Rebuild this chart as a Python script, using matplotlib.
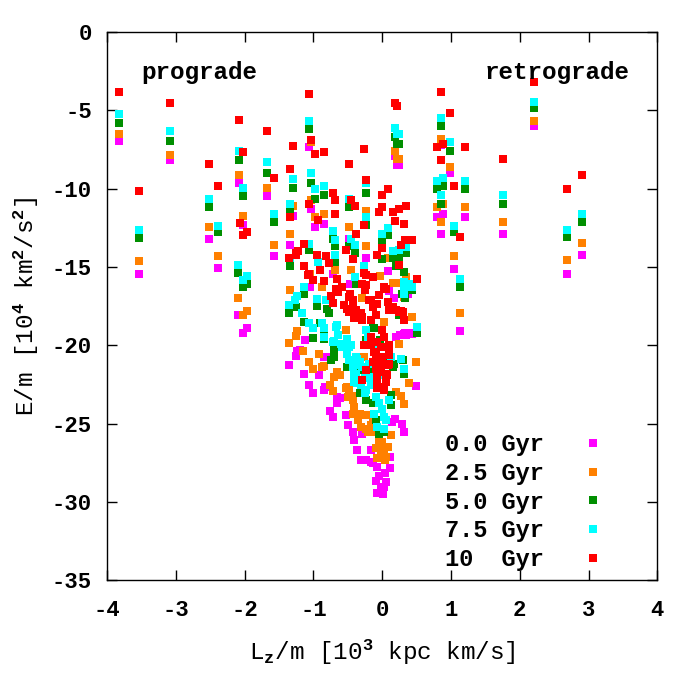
import numpy as np
import matplotlib
matplotlib.use('Agg')
import matplotlib.pyplot as plt

# ---- style: gnuplot-like bold mono look ----
plt.rcParams['font.family'] = ['Liberation Mono', 'DejaVu Sans Mono']
plt.rcParams['font.weight'] = 'bold'
plt.rcParams['axes.unicode_minus'] = False
plt.rcParams['mathtext.fontset'] = 'custom'
plt.rcParams['mathtext.rm'] = 'Liberation Mono:bold'
plt.rcParams['mathtext.it'] = 'Liberation Mono:bold'
plt.rcParams['mathtext.bf'] = 'Liberation Mono:bold'

# ---- data (Lz/m [1e3 kpc km/s], E/m [1e4 km^2/s^2]) ----
labels = ['0.0 Gyr', '2.5 Gyr', '5.0 Gyr', '7.5 Gyr', '10  Gyr']
colors = ['#ff00ff', '#ff8000', '#008f00', '#00ffff', '#ff0000']

lz_00 = [-3.82, -3.08, -3.54, -2.52, -2.39, -2.08, -2.03, -1.68, -1.58, -1.30, -1.34, -2.09, -1.96, -2.03,
         -1.24, -1.26, -1.35,
         0.25, 0.86, 0.99, 1.21, 0.79, 0.89, 0.85, 1.05, 1.13, 1.76, 2.20, 2.68, 2.91, 0.43, 0.32,
         -1.06, -1.04, -0.98, -0.84, -0.48, -0.24, -0.24, 0.19, 0.22, 0.08, -0.71,
         -0.47, 0.10, -1.05, 0.38, 0.20, 0.33, 0.49, -1.12, -1.19, -1.13, -0.92, -1.07, -0.80, -0.83, 0.26,
         -1.00, -0.85, -0.66, -0.66, -0.61, -0.76, -0.71, -0.53, -0.50, -0.43, -0.29, -0.41, -0.36, -0.16,
         -0.31, -0.24, -0.17, -0.13, -0.07, 0.11, 0.11, 0.04, -0.04, -0.09, 0.06, 0.03, -0.02, -0.07, 0.01,
         0.19, 0.29, 0.31, 0.14, 0.17, 0.34, 0.44, -0.84]
em_00 = [-6.96, -8.19, -15.45, -13.18, -15.03, -9.60, -12.34, -10.49, -14.30, -11.71, -13.56, -18.09, -18.90, -19.18,
         -20.35, -20.69, -21.22,
         -8.45, -7.22, -9.02, -11.83, -11.83, -11.58, -12.86, -15.09, -19.11, -12.86, -6.02, -15.41, -14.20, -19.30, -19.30,
         -7.36, -11.32, -12.43, -12.22, -13.18, -11.96, -14.45, -7.92, -8.45, -15.26, -15.41,
         -16.10, -16.52, -16.30, -16.69, -19.46, -19.24, -22.60, -19.67, -20.31, -21.80, -21.90, -22.54, -20.73, -22.65, -19.35,
         -23.03, -22.86, -23.29, -23.71, -23.39, -24.18, -24.56, -24.46, -25.10, -25.52, -25.63, -26.05, -26.69, -26.69,
         -27.29, -27.29, -27.44, -27.54, -27.76, -27.12, -27.80, -28.18, -28.35, -28.67, -28.71, -29.03, -29.14, -29.42, -29.46,
         -24.67, -25.03, -25.52, -24.88, -17.00, -19.35, -19.24, -20.73]

lz_25 = [-3.82, -3.08, -3.54, -2.52, -2.39, -2.08, -2.03, -1.68, -1.58, -1.30, -1.34, -2.09, -1.96, -2.03,
         -1.34, -1.24, -1.26, -1.35,
         0.25, 0.86, 0.99, 1.21, 0.79, 0.89, 0.85, 1.05, 1.13, 1.76, 2.20, 2.68, 2.91, 0.35, 0.31, 0.43,
         -1.04, -1.04, -0.98, -0.85, -0.48, -0.24, -0.24, 0.19, 0.22, 0.08, -0.69, -0.46, -1.05, -0.03,
         0.16, 0.25, 0.03, 0.24, 0.49,
         -1.15, -0.92, -1.07, -1.00, -0.85, -0.65, -0.62, -0.76, -0.26,
         -0.71, -0.50, -0.48, -0.53, -0.43, -0.41, -0.43, -0.35, -0.31, -0.24, -0.16, -0.21, -0.12, -0.04, 0.00,
         0.03, -0.09, 0.08, 0.05, -0.07, 0.31, 0.27, 0.20, 0.13,
         -0.51, -0.43, -0.41, -0.33, -0.24, -0.14, -0.02, 0.04,
         -0.87, -0.29, -0.53, -0.87, -0.70, 0.39]
em_25 = [-6.53, -7.81, -14.60, -12.47, -14.26, -9.09, -11.71, -9.98, -13.56, -11.13, -12.86, -17.00, -17.82, -18.03,
         -16.48, -19.09, -19.37, -19.86,
         -8.09, -6.79, -8.58, -11.19, -11.19, -11.00, -12.15, -14.26, -17.96, -12.15, -5.64, -14.52, -13.43, -15.62, -16.94, -18.16,
         -7.00, -10.73, -11.83, -11.58, -12.47, -11.39, -13.67, -7.56, -8.07, -14.45, -15.20, -15.16, -15.41, -15.58,
         -16.00, -16.00, -18.50, -19.88, -21.05,
         -20.35, -20.52, -21.05, -21.48, -21.33, -21.69, -21.90, -22.54, -20.73,
         -22.90, -23.29, -22.86, -22.75, -23.20, -24.14, -24.35, -24.78, -25.20, -25.31, -25.10, -25.52, -25.52, -26.16, -26.16,
         -26.69, -26.58, -26.48, -27.12, -27.16, -23.75, -23.24, -22.97, -25.73,
         -22.65, -23.50, -23.93, -24.35, -24.46, -24.78, -26.90, -27.33,
         -16.26, -17.00, -19.03, -21.37, -22.01, -22.43]

lz_50 = [-3.82, -3.08, -3.54, -2.52, -2.39, -2.08, -2.03, -1.68, -1.58, -1.30, -1.34, -2.09, -1.96, -2.03,
         -1.34, -1.26, -1.35,
         0.25, 0.86, 0.99, 1.21, 0.79, 0.89, 0.85, 1.05, 1.13, 1.76, 2.20, 2.68, 2.91, 0.35, 0.43, 0.50,
         -1.06, -1.04, -0.98, -0.85, -0.72, -0.69, -0.68, -0.48, -0.48, -0.24, -0.24, 0.19, 0.22, 0.08, -0.01,
         0.16, 0.24, 0.31, -1.06, -0.39, -0.01, 0.20,
         -1.13, -0.95, -0.80, -1.14, -1.00, -0.90, -0.84, -0.70, -0.74, -0.51, -0.33, -0.38, -0.24, -0.12, -0.12,
         0.31, 0.17, 0.10, -0.03, 0.33, 0.24, 0.29,
         -0.31, -0.24, -0.14, -0.09, 0.13, 0.13, 0.03, -0.05, -0.33, -0.38,
         -0.77, -0.84, -0.70, 0.25, 0.30, -0.14, 0.15]
em_50 = [-5.81, -6.92, -13.11, -11.17, -12.79, -8.13, -10.49, -8.96, -12.15, -9.96, -11.47, -15.35, -16.05, -16.24,
         -14.90, -17.52, -17.96,
         -7.17, -6.02, -7.60, -10.04, -10.04, -9.85, -10.94, -12.79, -16.24, -10.94, -4.87, -13.05, -12.09, -14.13, -16.45, -19.18,
         -6.15, -9.60, -10.62, -10.37, -13.18, -13.67, -14.70, -11.19, -13.67, -10.24, -12.28, -6.72, -7.17, -12.98, -13.32,
         -14.45, -14.39, -15.30, -13.92, -14.07, -14.51, -14.94,
         -16.69, -17.50, -17.65, -18.50, -19.50, -18.56, -19.60, -20.20, -20.94, -21.37, -21.58, -16.05, -19.67, -21.58, -18.92,
         -21.84, -21.16, -21.05, -19.67, -17.00, -18.07, -16.69,
         -22.86, -23.50, -23.71, -24.78, -23.82, -23.18, -25.52, -25.63, -23.07, -22.16,
         -17.96, -19.35, -20.73, -17.96, -20.94, -18.92, -21.37]

lz_75 = [-3.82, -3.08, -3.54, -2.52, -2.39, -2.08, -2.03, -1.68, -1.58, -1.30, -1.34, -2.09, -1.96, -2.03,
         -1.24, -1.27, -1.35, -1.34,
         0.25, 0.86, 0.99, 1.21, 0.79, 0.89, 0.85, 1.05, 1.13, 1.76, 2.20, 2.68, 2.91, 0.35, 0.43, 0.32, 0.50,
         -1.06, -1.04, -0.98, -0.85, -0.72, -0.69, -0.68, -0.48, -0.46, -0.24, -0.24, 0.19, 0.22, -0.01, 0.08,
         0.16, 0.24, -1.06, -0.93, -0.39, -0.27, -0.39,
         -1.14, -0.95, -0.82, -1.16, -1.07, -1.00, -0.88, -0.84, -0.66, -0.64, -0.70, -0.60, -0.48, -0.51, -0.46,
         -0.38, -0.33, -0.43, -0.29, -0.41, -0.41, -0.24, -0.21, -0.12, -0.06, -0.04, -0.16, -0.25, -0.31,
         0.31, 0.28, 0.13, 0.31,
         -0.36, -0.24, -0.16, -0.09, -0.04, 0.00, -0.12, 0.03, 0.05, -0.07, 0.03, 0.10, -0.25,
         -0.67, -0.51, -0.46, -0.58, -0.48, -0.36, -0.33, -0.43, -0.38, -0.33, -0.19, 0.32, 0.44,
         -0.84, -0.72]
em_75 = [-5.24, -6.34, -12.64, -10.66, -12.35, -7.56, -9.92, -8.32, -11.62, -9.39, -11.00, -14.88, -15.54, -15.80,
         -16.84, -17.11, -17.45, -14.45,
         -6.51, -5.51, -7.00, -9.47, -9.47, -9.28, -10.37, -12.35, -15.79, -10.37, -4.43, -12.60, -11.58, -13.69, -16.05, -15.98, -18.80,
         -5.64, -9.02, -10.04, -9.85, -12.71, -13.24, -14.24, -10.62, -13.18, -9.66, -11.77, -6.09, -6.53, -12.86, -12.50,
         -13.99, -13.93, -13.50, -14.67, -13.62, -14.94, -15.63,
         -16.26, -17.05, -17.11, -17.96, -18.60, -18.92, -18.60, -19.46, -18.71, -19.35, -19.71, -19.88, -20.13, -20.52, -20.94,
         -20.73, -21.05, -21.37, -21.37, -21.80, -22.33, -19.03, -19.46, -20.31, -20.73, -21.90, -22.01, -22.11, -22.54,
         -21.48, -20.90, -20.73, -16.69,
         -22.43, -22.86, -22.54, -23.29, -23.71, -24.03, -24.35, -24.56, -24.78, -25.20, -25.31, -23.50, -23.07,
         -18.82, -19.56, -19.99, -20.10, -20.94, -20.84, -21.26, -21.37, -21.90, -22.43, -21.16, -16.26, -16.26,
         -18.92, -19.78]

lz_10 = [-3.82, -3.08, -3.54, -2.52, -2.39, -2.08, -2.03, -2.07, -2.03, -1.96, -1.68, -1.58, -1.30, -1.34, -1.34,
         -1.25, -1.35, -1.26,
         0.86, 0.89, 0.79, 0.85, 0.99, 1.21, 1.05, 1.13, 1.76, 2.20, 2.68, 2.91,
         0.35, 0.31, 0.25, 0.43, 0.33, 0.28, 0.50, 0.31, 0.28,
         -1.06, -1.04, -0.98, -0.85, -1.06, -0.93, -0.72, -0.69, -0.68, -0.48, -0.46, -0.39, -0.26, -0.24, -0.27, -0.38,
         -0.01, 0.08, -0.04, -0.01, 0.16, 0.18, 0.00, 0.24, 0.19, 0.22,
         -1.14, -1.23, -1.14, -1.07, -0.95, -0.82, -0.78, -0.90, -0.53, -0.42, -0.27, -0.14, -0.07,
         -1.08, -1.00, -0.85, -0.66, -0.24,
         -0.67, -0.64, -0.58, -0.49, -0.25, -0.23, -0.30, -0.17, -0.04, 0.05, -0.74, -0.71,
         -0.43, -0.38, -0.31, -0.41, -0.29, -0.16, -0.09, -0.07, 0.08, 0.15, 0.20, 0.30,
         0.00, 0.03, -0.16, -0.17, -0.22, -0.07, -0.02, 0.10, -0.09, 0.00, -0.04, 0.10, -0.09, 0.00, 0.05, -0.07,
         0.05, -0.04, -0.51, -0.56, -0.47, 0.10, -0.07, 0.03, 0.07,
         -0.43, -0.48, -0.41, -0.29, -0.19, -0.14, 0.03, 0.10, 0.25, -0.26, -0.12, -0.14, -0.09, -0.02,
         0.08, 0.10, -0.07, -0.24, -0.29]
em_10 = [-3.85, -4.49, -10.11, -8.39, -9.85, -5.58, -7.68, -12.20, -12.96, -12.77, -6.34, -9.28, -7.24, -8.71, -11.79,
         -14.09, -14.45, -14.24,
         -3.79, -7.17, -7.36, -8.13, -5.13, -7.36, -9.85, -13.05, -8.07, -3.15, -10.04, -9.15,
         -11.13, -12.22, -11.32, -13.30, -13.30, -13.56, -15.79, -18.39, -17.82,
         -3.92, -6.90, -7.79, -7.62, -10.94, -12.00, -10.24, -10.69, -11.64, -8.39, -10.69, -11.07, -7.49, -9.41, -12.34, -12.86,
         -10.37, -10.04, -11.45, -11.19, -11.45, -12.03, -13.75, -14.88, -4.55, -4.73,
         -13.50, -13.98, -14.94, -15.47, -14.20, -14.26, -14.77, -15.16, -13.88, -14.51, -15.35, -15.62, -14.20,
         -15.52, -15.84, -15.90, -15.73, -15.52,
         -16.37, -16.58, -16.26, -16.90, -16.48, -16.16, -16.05, -17.07, -16.79, -16.37, -16.86, -17.28,
         -17.43, -17.75, -17.96, -18.28, -18.39, -18.39, -18.07, -17.33, -17.22, -17.54, -17.75, -17.86,
         -19.03, -19.46, -19.46, -19.99, -19.99, -19.78, -20.10, -19.99, -20.52, -20.73, -20.94, -20.63, -21.37, -21.26, -21.80, -21.80,
         -22.33, -22.65, -17.65, -17.43, -16.70, -21.16, -22.75, -22.86, -21.90,
         -17.11, -17.86, -17.96, -18.18, -17.11, -17.54, -16.26, -17.75, -17.86, -19.99, -20.41, -21.05, -21.48, -21.69,
         -21.26, -20.10, -22.33, -21.58, -22.22]

series_lz = [lz_00, lz_25, lz_50, lz_75, lz_10]
series_em = [em_00, em_25, em_50, em_75, em_10]

# ---- figure ----
fig = plt.figure(figsize=(7, 7), dpi=100)
ax = fig.add_axes([0.153, 0.171, 0.786, 0.783])

for lz, em, c, lab in zip(series_lz, series_em, colors, labels):
    ax.plot(lz, em, 's', ms=5.6, mew=0, color=c, label=lab)

ax.set_xlim(-4, 4)
ax.set_ylim(-35, 0)
ax.set_xticks(np.arange(-4, 5, 1))
ax.set_yticks(np.arange(-35, 1, 5))
ax.tick_params(direction='in', length=7, width=1, top=True, right=True, labelsize=16)
ax.tick_params(axis='x', pad=14)
ax.tick_params(axis='y', pad=11)
for s in ax.spines.values():
    s.set_linewidth(1)

ax.set_xlabel(r'L$_\mathrm{z}$/m [10$^\mathrm{3}$ kpc km/s]', fontsize=17.5, labelpad=12)
ax.set_ylabel(r'E/m [10$^\mathrm{4}$ km$^\mathrm{2}$/s$^\mathrm{2}$]', fontsize=17.5, labelpad=8)

ax.text(0.167, 0.927, 'prograde', transform=ax.transAxes, ha='center', va='center', fontsize=17.5)
ax.text(0.818, 0.927, 'retrograde', transform=ax.transAxes, ha='center', va='center', fontsize=17.5)

leg = ax.legend(loc='lower right', frameon=False, markerfirst=False, fontsize=17,
                handletextpad=1.58, labelspacing=0.24, borderaxespad=0.0, handlelength=1.0,
                bbox_to_anchor=(0.922, 0.0))

plt.savefig('out.png', dpi=100)
